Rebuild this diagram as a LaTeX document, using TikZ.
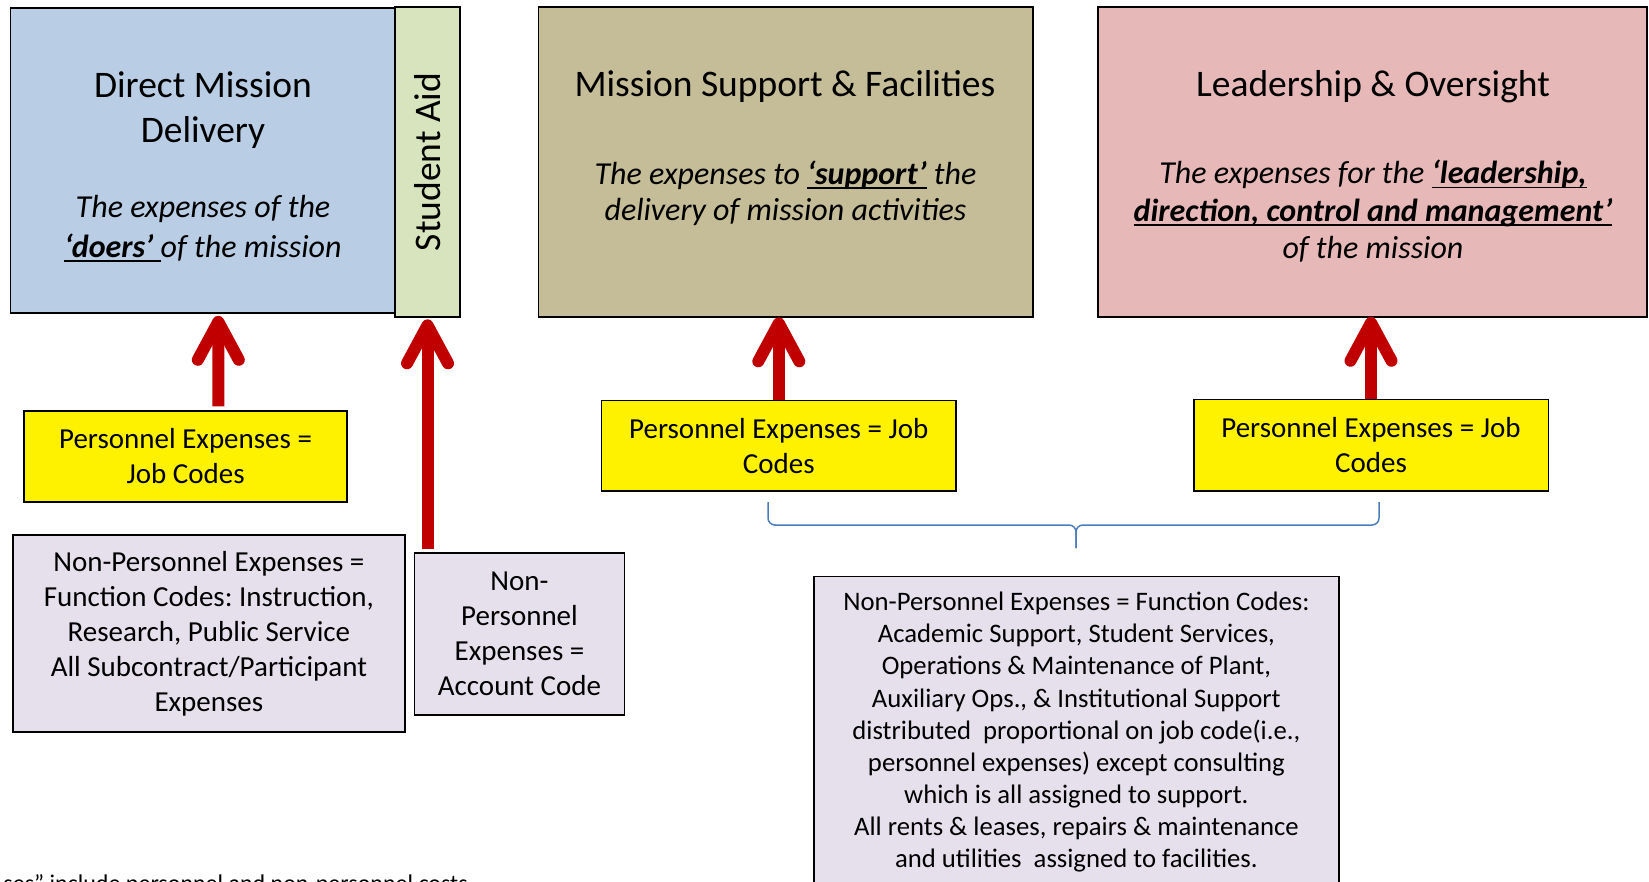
\documentclass[tikz,border=0pt]{standalone}
\usepackage{fontspec}
\setmainfont{Carlito}
\usetikzlibrary{arrows.meta,positioning}

\definecolor{dmdblue}{HTML}{B9CDE5}
\definecolor{aidgreen}{HTML}{D7E4BD}
\definecolor{msftan}{HTML}{C4BD97}
\definecolor{leadpink}{HTML}{E6B9B8}
\definecolor{nplilac}{HTML}{E5E0EC}
\definecolor{arrowred}{HTML}{C00000}
\definecolor{bracketblue}{HTML}{4A7EBB}

% underline at a fixed depth, like the office one
\newcommand{\ulword}[1]{\setbox0\hbox{#1}\rlap{\rule[-4.5pt]{\wd0}{1.6pt}}\box0\relax}
\frenchspacing

\begin{document}
\begin{tikzpicture}[x=1pt, y=-1pt,
    box/.style={draw, line width=1.6pt, inner sep=0pt, outer sep=0pt},
    headtext/.style={font=\fontsize{37.5}{45}\selectfont, align=center, inner sep=0pt},
    desctext/.style={font=\fontsize{32}{37.5}\selectfont\itshape, align=center, inner sep=0pt},
    jobbox/.style={box, fill=yellow, font=\fontsize{29}{35}\selectfont, align=center},
    npbox/.style={box, fill=nplilac, font=\fontsize{29}{35}\selectfont, align=center},
    redarrow/.style={draw=arrowred, line width=12pt, -{Straight Barb[length=38pt, width=41pt, round]}},
    bracket/.style={draw=bracketblue, line width=1.5pt, rounded corners=7pt}]
    \clip (0,0) rectangle (1649,882);

    % Cost pools
    \node[box, fill=dmdblue, minimum width=384.7pt, minimum height=305pt] (dmd) at (202.9,160.8) {};
    \node[box, fill=aidgreen, minimum width=64.6pt, minimum height=309.8pt, font=\fontsize{37.5}{45}\selectfont] (aid) at (427.5,161.9) {\rotatebox{90}{Student Aid}};
    \node[box, fill=msftan, minimum width=494.4pt, minimum height=310pt] (msf) at (785.5,162.3) {};
    \node[box, fill=leadpink, minimum width=549.2pt, minimum height=309.5pt] (lead) at (1372.4,162) {};

    % (base sits on the last line)
    \node[headtext, anchor=base] (dmdhead) at (203,143) {Direct Mission\\Delivery};
    \node[desctext, anchor=base] (dmddesc) at (203,257.5) {The expenses of the\\[2.5pt]\ulword{\textbf{‘doers’}\ }of the mission};
    \node[headtext, anchor=base] (msfhead) at (785,97) {Mission Support \& Facilities};
    \node[desctext, anchor=base] (msfdesc) at (785.5,221) {The expenses to \ulword{\textbf{‘support’}} the\\[-1pt]delivery of mission activities};
    \node[headtext, anchor=base] (leadhead) at (1373,97) {Leadership \& Oversight};
    \node[desctext, anchor=base] (leaddesc) at (1373,259) {The expenses for the \ulword{\textbf{‘leadership,}}\\\ulword{\textbf{direction, control and management’}}\\of the mission};

    % Job codes
    \node[jobbox, minimum width=322.9pt, minimum height=90.5pt] (jobA) at (185.6,456.5) {Personnel Expenses =\\Job Codes};
    \node[jobbox, minimum width=354.4pt, minimum height=90.3pt] (jobB) at (778.8,445.6) {Personnel Expenses = Job\\Codes};
    \node[jobbox, minimum width=354.6pt, minimum height=91.3pt] (jobC) at (1371,445.1) {Personnel Expenses = Job\\Codes};

    % Function and account codes
    \node[npbox, minimum width=392.2pt, minimum height=196.6pt] (npA) at (208.9,633.5) {Non-Personnel Expenses =\\Function Codes: Instruction,\\Research, Public Service\\All Subcontract/Participant\\Expenses};
    \node[npbox, minimum width=210.3pt, minimum height=161.5pt] (npAid) at (519.5,634) {Non-\\Personnel\\Expenses =\\Account Code};
    \node[npbox, minimum width=525.2pt, minimum height=311.5pt, font=\fontsize{26.7}{32.1}\selectfont] (npC) at (1076.4,732.2) {Non-Personnel Expenses = Function Codes:\\Academic Support, Student Services,\\Operations \& Maintenance of Plant,\\Auxiliary Ops., \& Institutional Support\\distributed~ proportional on job code(i.e.,\\personnel expenses) except consulting\\which is all assigned to support.\\All rents \& leases, repairs \& maintenance\\and utilities~ assigned to facilities.};

    \node[anchor=base east, inner sep=0pt, font=\fontsize{24}{28}\selectfont] (costnote) at (468,891) {ses” include personnel and non-personnel costs};

    % Arrows
    \draw[redarrow, shorten <=5pt, shorten >=2.5pt] ([xshift=32.7pt]jobA.north) -- ([xshift=15.4pt]dmd.south);
    \draw[redarrow, shorten <=4pt, shorten >=2.5pt] (npAid.north -| aid.south) -- (aid.south);
    \draw[redarrow] (jobB.north) -- (jobB.north |- msf.south);
    \draw[redarrow] (jobC.north) -- (jobC.north |- lead.south);

    % Brace
    \coordinate (braceL) at (768,502);
    \coordinate (braceR) at (1379,502);
    \coordinate (braceM) at (1076,525);
    \coordinate (braceTip) at (1076,548);
    \draw[bracket] (braceL) |- (braceM) -- (braceTip);
    \draw[bracket] (braceR) |- (braceM) -- (braceTip);
\end{tikzpicture}
\end{document}
